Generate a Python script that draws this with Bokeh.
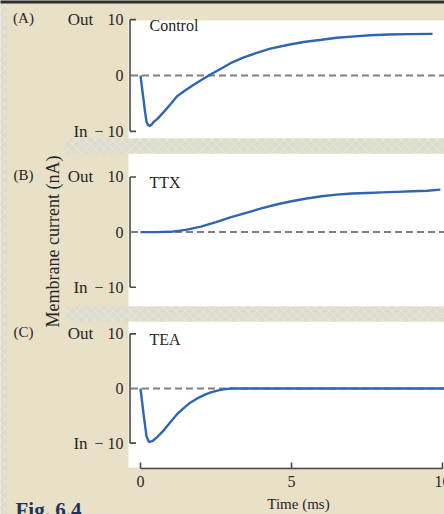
import math
from bokeh.plotting import figure
from bokeh.models import Range1d
from bokeh.core.properties import value
from bokeh.embed import file_html
from bokeh.resources import INLINE

# ---------------- data ----------------
panel_labels = ["(A)", "(B)", "(C)"]
condition_names = ["Control", "TTX", "TEA"]
y_ticks = [10, 0, -10]
y_tick_labels = ["10", "0", "\u2212 10"]
y_side_ticks = [10, -10]
y_side_labels = ["Out", "In"]
x_ticks = [0, 5, 10]
x_tick_labels = ["0", "5", "10"]
x_axis_title = "Time (ms)"
y_axis_title = "Membrane current (nA)"
figure_caption = "Fig. 6.4"

control_time = [0, 0.05, 0.1, 0.15, 0.2, 0.25, 0.3, 0.35, 0.44, 0.55, 0.76, 1.0, 1.21, 1.5, 1.75,
                2.0, 2.26, 2.72, 2.98, 3.4, 3.82, 4.3, 4.9, 5.4, 6.0, 6.5, 7.1, 7.6, 8.2, 8.9, 9.67]
control_current = [0, -2.2, -4.3, -6.5, -8.3, -8.9, -9.0, -8.9, -8.3, -7.8, -6.6, -5.1, -3.7, -2.6, -1.7,
                   -0.85, 0, 1.4, 2.2, 3.2, 4.0, 4.8, 5.5, 6.0, 6.4, 6.75, 7.0, 7.2, 7.35, 7.4, 7.45]

ttx_time = [0, 0.5, 1.0, 1.5, 2.0, 2.5, 3.0, 3.5, 4.0, 4.5, 5.0, 5.5, 6.0, 6.5, 7.0, 7.5, 8.0, 8.5,
            9.0, 9.5, 9.93]
ttx_current = [0, 0, 0.05, 0.4, 1.0, 1.8, 2.7, 3.5, 4.3, 5.0, 5.6, 6.1, 6.5, 6.8, 7.0, 7.1, 7.2, 7.3,
               7.4, 7.5, 7.7]

tea_time = [0, 0.1, 0.2, 0.28, 0.4, 0.55, 0.77, 1.0, 1.21, 1.45, 1.66, 1.9, 2.1, 2.3, 2.54, 2.75,
            3.0, 10.1]
tea_current = [0, -4.6, -8.8, -9.8, -9.6, -8.9, -7.65, -6.1, -4.7, -3.5, -2.55, -1.75, -1.2, -0.75,
               -0.4, -0.15, 0, 0]

panel_times = [control_time, ttx_time, tea_time]
panel_currents = [control_current, ttx_current, tea_current]

# ---------------- layout / style ----------------
W, H = 444, 514          # figure size (page has no body margin in the Bokeh template)
X0_PX, X10_PX = 140, 442  # pixel of t = 0 and t = 10 ms
PX_PER_MS = (X10_PX - X0_PX) / 10.0
# zero line pixel and pixels per nA for each panel
panel_zero_px = [75.0, 231.6, 388.0]
panel_px_per_unit = [5.585, 5.515, 5.465]
# white plot areas (px): top, bottom
panel_box = [(20, 138), (153, 306), (321, 467)]
strip_box = [(138, 153), (306, 321)]
WHITE_LEFT = 128
STRIP_LEFT = 66
LEFT_STRIP_W = 7
TOP_BAR_H = 3
AXIS_X = 129.5
TICK_LEN = 6
X_AXIS_Y = 468

BEIGE = "#e9e0c8"
STRIP = "#dedccd"
TOP_BAR = "#2e2e2e"
BLUE = "#2f66b3"
DASH = "#7f7f7f"
AXIS = "#4a4a4a"
TEXT = "#262626"
CAPTION = "#1d3358"
FONT = value("Liberation Serif")

x_start = -X0_PX / PX_PER_MS
x_end = 10 + (W - X10_PX) / PX_PER_MS

p = figure(width=W, height=H, output_backend="svg", toolbar_location=None,
           x_range=Range1d(x_start, x_end), y_range=Range1d(H, 0),
           x_axis_type=None, y_axis_type=None, min_border=0)
p.title.visible = False
p.grid.visible = False
p.outline_line_color = None
p.background_fill_color = BEIGE
p.border_fill_color = BEIGE
p.extra_x_ranges = {"px": Range1d(0, W)}

names = ["A", "B", "C"]
extra = {}
for n, z, s in zip(names, panel_zero_px, panel_px_per_unit):
    extra[n] = Range1d((z - H) / s, z / s)
p.extra_y_ranges = extra

# background decorations (pixel space)
p.quad(left=[WHITE_LEFT] * 3, right=[W + 2] * 3,
       top=[b[0] for b in panel_box], bottom=[b[1] for b in panel_box],
       x_range_name="px", fill_color="white", line_color=None)
p.quad(left=[STRIP_LEFT] * 2 + [-2], right=[W + 2] * 2 + [LEFT_STRIP_W],
       top=[b[0] for b in strip_box] + [-2], bottom=[b[1] for b in strip_box] + [H + 2],
       x_range_name="px", fill_color=STRIP, line_color=None,
       hatch_pattern="diagonal_cross", hatch_color="white", hatch_alpha=0.3,
       hatch_scale=9, hatch_weight=1)
p.quad(left=[-2], right=[W + 2], top=[-2], bottom=[TOP_BAR_H], x_range_name="px",
       fill_color=TOP_BAR, line_color=None)

for i, n in enumerate(names):
    # zero reference line
    p.segment(x0=[AXIS_X + 1], y0=[0], x1=[W + 2], y1=[0], x_range_name="px", y_range_name=n,
              line_color=DASH, line_width=2, line_dash="7 4")
    # y axis line and bracket ticks
    p.segment(x0=[AXIS_X], y0=[min(y_side_ticks)], x1=[AXIS_X], y1=[max(y_side_ticks)],
              x_range_name="px", y_range_name=n, line_color=AXIS, line_width=1.6)
    p.segment(x0=[AXIS_X] * 2, y0=y_side_ticks, x1=[AXIS_X + TICK_LEN] * 2, y1=y_side_ticks,
              x_range_name="px", y_range_name=n, line_color=AXIS, line_width=1.6)
    p.text(x=[123] * 3, y=y_ticks, text=y_tick_labels, x_range_name="px", y_range_name=n,
           text_font=FONT, text_font_size="16px", text_color=TEXT,
           text_align="right", text_baseline="middle")
    p.text(x=[80] * 2, y=y_side_ticks, text=y_side_labels, x_range_name="px", y_range_name=n,
           text_font=FONT, text_font_size="17px", text_color=TEXT,
           text_align="center", text_baseline="middle")
    p.text(x=[23], y=[10], y_offset=-2, text=[panel_labels[i]], x_range_name="px", y_range_name=n,
           text_font=FONT, text_font_size="15px", text_color=TEXT,
           text_align="center", text_baseline="middle")
    p.text(x=[149], y=[9], text=[condition_names[i]], x_range_name="px", y_range_name=n,
           text_font=FONT, text_font_size="16px", text_color=TEXT,
           text_align="left", text_baseline="middle")
    # current trace
    p.line(panel_times[i], panel_currents[i], y_range_name=n, line_color=BLUE, line_width=2.4)

# x axis (time in ms, vertical in pixels)
p.segment(x0=[min(x_ticks)], y0=[X_AXIS_Y], x1=[max(x_ticks)], y1=[X_AXIS_Y],
          line_color=AXIS, line_width=1.6)
p.segment(x0=x_ticks, y0=[X_AXIS_Y] * 3, x1=x_ticks, y1=[X_AXIS_Y - TICK_LEN] * 3,
          line_color=AXIS, line_width=1.6)
p.text(x=x_ticks, y=[481] * 3, text=x_tick_labels, text_font=FONT, text_font_size="16px",
       text_color=TEXT, text_align="center", text_baseline="middle")
p.text(x=[298], y=[503], text=[x_axis_title], x_range_name="px", text_font=FONT,
       text_font_size="15px", text_color=TEXT, text_align="center", text_baseline="middle")
p.text(x=[52.5], y=[241], text=[y_axis_title], x_range_name="px", angle=math.pi / 2,
       text_font=FONT, text_font_size="18px", text_color=TEXT,
       text_align="center", text_baseline="middle")
p.text(x=[15], y=[509], text=[figure_caption], x_range_name="px", text_font=FONT,
       text_font_size="21px", text_font_style="bold", text_color=CAPTION,
       text_align="left", text_baseline="alphabetic")

open("out.html", "w").write(file_html(p, INLINE))
